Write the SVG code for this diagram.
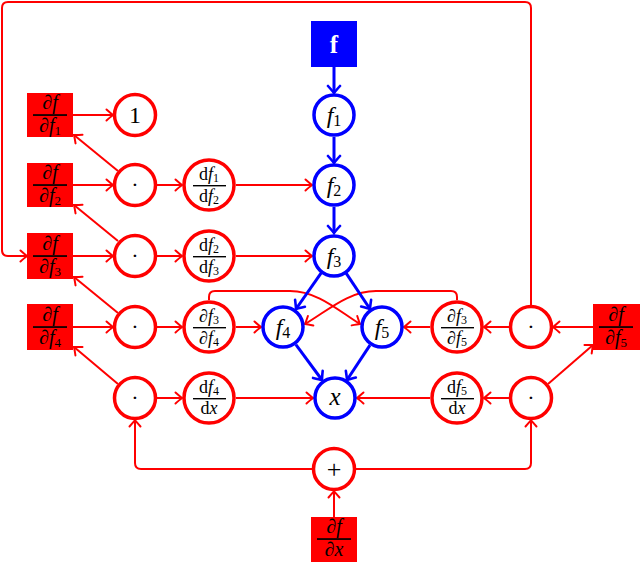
<svg xmlns="http://www.w3.org/2000/svg" width="640" height="562" viewBox="0 0 640 562">
<style>
.bg{fill:#fff}
.rbox{fill:#ff0000}
.bbox{fill:#0000ff}
.rc{fill:#fff;stroke:#ff0000;stroke-width:3.5}
.bc{fill:#fff;stroke:#0000ff;stroke-width:3.5}
.re{fill:none;stroke:#ff0000;stroke-width:2}
.be{fill:none;stroke:#0000ff;stroke-width:3}
.t{font-family:"Liberation Serif","DejaVu Serif",serif;fill:#000;text-anchor:middle}
.i{font-style:italic}
.bar{fill:#000}
</style>
<defs>
<marker id="ar" markerUnits="userSpaceOnUse" viewBox="-9 -7 11 14" markerWidth="11" markerHeight="14" refX="0" refY="0" orient="auto">
<path d="M-6.5,-5.5 Q-2,-1.5 0,0 Q-2,1.5 -6.5,5.5" fill="none" stroke="#ff0000" stroke-width="2" stroke-linecap="round"/>
</marker>
<marker id="ab" markerUnits="userSpaceOnUse" viewBox="-10 -8 12 16" markerWidth="12" markerHeight="16" refX="0" refY="0" orient="auto">
<path d="M-7,-6 Q-2,-1.5 0,0 Q-2,1.5 -7,6" fill="none" stroke="#0000ff" stroke-width="2.6" stroke-linecap="round"/>
</marker>
</defs>
<rect class="bg" x="0" y="0" width="640" height="562"/>

<g id="connectors">
<path class="re" marker-end="url(#ar)" d="M531,305 L531,8 Q531,2 525,2 L8,2 Q2,2 2,8 L2,250 Q2,256 8,256 L27,256"/>
<path class="re" marker-end="url(#ar)" d="M73,115 L113,115"/>
<path class="re" marker-end="url(#ar)" d="M73,185 L113,185"/>
<path class="re" marker-end="url(#ar)" d="M157,185 L182,185"/>
<path class="re" marker-end="url(#ar)" d="M236,185 L312,185"/>
<path class="re" marker-end="url(#ar)" d="M118,171 L74,135"/>
<path class="re" marker-end="url(#ar)" d="M73,256 L113,256"/>
<path class="re" marker-end="url(#ar)" d="M157,256 L182,256"/>
<path class="re" marker-end="url(#ar)" d="M236,256 L312,256"/>
<path class="re" marker-end="url(#ar)" d="M118,241 L74,205"/>
<path class="re" marker-end="url(#ar)" d="M73,327 L113,327"/>
<path class="re" marker-end="url(#ar)" d="M157,327 L182,327"/>
<path class="re" marker-end="url(#ar)" d="M236,327 L261,327"/>
<path class="re" marker-end="url(#ar)" d="M118,313 L74,277"/>
<path class="re" marker-end="url(#ar)" d="M157,398 L182,398"/>
<path class="re" marker-end="url(#ar)" d="M236,398 L313,398"/>
<path class="re" marker-end="url(#ar)" d="M118,384 L74,347"/>
<path class="re" marker-end="url(#ar)" d="M593,327 L553,327"/>
<path class="re" marker-end="url(#ar)" d="M509,327 L484,327"/>
<path class="re" marker-end="url(#ar)" d="M430,327 L404,327"/>
<path class="re" marker-end="url(#ar)" d="M509,398 L484,398"/>
<path class="re" marker-end="url(#ar)" d="M430,398 L357,398"/>
<path class="re" marker-end="url(#ar)" d="M548,384 L593,345"/>
<path class="re" marker-end="url(#ar)" d="M312,469 L141,469 Q135,469 135,463 L135,420"/>
<path class="re" marker-end="url(#ar)" d="M356,469 L525,469 Q531,469 531,463 L531,420"/>
<path class="re" marker-end="url(#ar)" d="M334,517 L334,491"/>
<path class="re" marker-end="url(#ar)" d="M209,300 L209,297 Q209,291 215,291 L290,291 C318,291 340,312 360,324"/>
<path class="re" marker-end="url(#ar)" d="M457,300 L457,297 Q457,291 451,291 L376,291 C348,291 326,312 305,324"/>
<path class="be" marker-end="url(#ab)" d="M334,67 L334,93"/>
<path class="be" marker-end="url(#ab)" d="M334,137 L334,163"/>
<path class="be" marker-end="url(#ab)" d="M334,207 L334,233"/>
<path class="be" marker-end="url(#ab)" d="M321.4,272.7 L296,309"/>
<path class="be" marker-end="url(#ab)" d="M346.1,273.1 L370,309"/>
<path class="be" marker-end="url(#ab)" d="M295.9,344.6 L322,380"/>
<path class="be" marker-end="url(#ab)" d="M370,345.1 L347,380"/>
</g>

<g id="n-f">
<rect class="bbox" x="311" y="21" width="46" height="46"/>
<text class="t" x="334" y="53" font-size="25" font-weight="bold" style="fill:#fff">f</text>
</g>
<g id="n-f1">
<circle class="bc" cx="334" cy="115" r="20"/>
<text class="t" x="334" y="123" font-size="24"><tspan class="i">f</tspan><tspan font-size="16" dy="3">1</tspan></text>
</g>
<g id="n-f2">
<circle class="bc" cx="334" cy="185" r="20"/>
<text class="t" x="334" y="193" font-size="24"><tspan class="i">f</tspan><tspan font-size="16" dy="3">2</tspan></text>
</g>
<g id="n-f3">
<circle class="bc" cx="334" cy="256" r="20"/>
<text class="t" x="334" y="264" font-size="24"><tspan class="i">f</tspan><tspan font-size="16" dy="3">3</tspan></text>
</g>
<g id="n-f4">
<circle class="bc" cx="283" cy="327" r="20"/>
<text class="t" x="283" y="335" font-size="24"><tspan class="i">f</tspan><tspan font-size="16" dy="3">4</tspan></text>
</g>
<g id="n-f5">
<circle class="bc" cx="382" cy="327" r="20"/>
<text class="t" x="382" y="335" font-size="24"><tspan class="i">f</tspan><tspan font-size="16" dy="3">5</tspan></text>
</g>
<g id="n-x">
<circle class="bc" cx="335" cy="398" r="20"/>
<text class="t i" x="335" y="405" font-size="25">x</text>
</g>

<g id="n-df1">
<rect class="rbox" x="27" y="93" width="46" height="44"/>
<text class="t" x="50" y="109" font-size="20">∂<tspan class="i">f</tspan></text>
<rect class="bar" x="33" y="114.2" width="34" height="1.7"/>
<text class="t" x="50" y="132" font-size="20">∂<tspan class="i">f</tspan><tspan font-size="13" dy="3">1</tspan></text>
</g>
<g id="n-df2">
<rect class="rbox" x="27" y="163" width="46" height="44"/>
<text class="t" x="50" y="179" font-size="20">∂<tspan class="i">f</tspan></text>
<rect class="bar" x="33" y="184.2" width="34" height="1.7"/>
<text class="t" x="50" y="202" font-size="20">∂<tspan class="i">f</tspan><tspan font-size="13" dy="3">2</tspan></text>
</g>
<g id="n-df3">
<rect class="rbox" x="27" y="233" width="46" height="46"/>
<text class="t" x="50" y="250" font-size="20">∂<tspan class="i">f</tspan></text>
<rect class="bar" x="33" y="255.2" width="34" height="1.7"/>
<text class="t" x="50" y="273" font-size="20">∂<tspan class="i">f</tspan><tspan font-size="13" dy="3">3</tspan></text>
</g>
<g id="n-df4">
<rect class="rbox" x="27" y="304" width="46" height="46"/>
<text class="t" x="50" y="321" font-size="20">∂<tspan class="i">f</tspan></text>
<rect class="bar" x="33" y="326.2" width="34" height="1.7"/>
<text class="t" x="50" y="344" font-size="20">∂<tspan class="i">f</tspan><tspan font-size="13" dy="3">4</tspan></text>
</g>
<g id="n-df5">
<rect class="rbox" x="593" y="304" width="47" height="46"/>
<text class="t" x="616" y="321" font-size="20">∂<tspan class="i">f</tspan></text>
<rect class="bar" x="599" y="326.2" width="34" height="1.7"/>
<text class="t" x="616" y="344" font-size="20">∂<tspan class="i">f</tspan><tspan font-size="13" dy="3">5</tspan></text>
</g>
<g id="n-dx">
<rect class="rbox" x="311" y="517" width="46" height="45"/>
<text class="t" x="334" y="533" font-size="20">∂<tspan class="i">f</tspan></text>
<rect class="bar" x="317" y="538.2" width="34" height="1.7"/>
<text class="t" x="334" y="556" font-size="20">∂<tspan class="i">x</tspan></text>
</g>

<g id="n-one">
<circle class="rc" cx="135" cy="115" r="20.5"/>
<text class="t" x="135" y="123" font-size="24">1</text>
</g>
<g id="n-m1">
<circle class="rc" cx="135" cy="185" r="20.5"/>
<text class="t" x="135" y="192" font-size="22">·</text>
</g>
<g id="n-m2">
<circle class="rc" cx="135" cy="256" r="20.5"/>
<text class="t" x="135" y="263" font-size="22">·</text>
</g>
<g id="n-m3">
<circle class="rc" cx="135" cy="327" r="20.5"/>
<text class="t" x="135" y="334" font-size="22">·</text>
</g>
<g id="n-m4">
<circle class="rc" cx="135" cy="398" r="20.5"/>
<text class="t" x="135" y="405" font-size="22">·</text>
</g>
<g id="n-m5">
<circle class="rc" cx="531" cy="327" r="20.5"/>
<text class="t" x="531" y="334" font-size="22">·</text>
</g>
<g id="n-m6">
<circle class="rc" cx="531" cy="398" r="20.5"/>
<text class="t" x="531" y="405" font-size="22">·</text>
</g>
<g id="n-plus">
<circle class="rc" cx="334" cy="469" r="20.5"/>
<text class="t" x="334" y="478" font-size="26">+</text>
</g>

<g id="n-d12">
<circle class="rc" cx="209" cy="185" r="25"/>
<text class="t" x="209" y="180" font-size="18">d<tspan class="i">f</tspan><tspan font-size="12" dy="2">1</tspan></text>
<rect class="bar" x="193" y="185" width="33" height="1.4"/>
<text class="t" x="209" y="202" font-size="18">d<tspan class="i">f</tspan><tspan font-size="12" dy="2">2</tspan></text>
</g>
<g id="n-d23">
<circle class="rc" cx="209" cy="256" r="25"/>
<text class="t" x="209" y="251" font-size="18">d<tspan class="i">f</tspan><tspan font-size="12" dy="2">2</tspan></text>
<rect class="bar" x="193" y="256" width="33" height="1.4"/>
<text class="t" x="209" y="273" font-size="18">d<tspan class="i">f</tspan><tspan font-size="12" dy="2">3</tspan></text>
</g>
<g id="n-p34">
<circle class="rc" cx="209" cy="327" r="25"/>
<text class="t" x="209" y="322" font-size="18">∂<tspan class="i">f</tspan><tspan font-size="12" dy="2">3</tspan></text>
<rect class="bar" x="193" y="327" width="33" height="1.4"/>
<text class="t" x="209" y="344" font-size="18">∂<tspan class="i">f</tspan><tspan font-size="12" dy="2">4</tspan></text>
</g>
<g id="n-d4x">
<circle class="rc" cx="209" cy="398" r="25"/>
<text class="t" x="209" y="393" font-size="18">d<tspan class="i">f</tspan><tspan font-size="12" dy="2">4</tspan></text>
<rect class="bar" x="193" y="398" width="33" height="1.4"/>
<text class="t" x="209" y="414" font-size="18">d<tspan class="i">x</tspan></text>
</g>
<g id="n-p35">
<circle class="rc" cx="457" cy="327" r="25"/>
<text class="t" x="457" y="322" font-size="18">∂<tspan class="i">f</tspan><tspan font-size="12" dy="2">3</tspan></text>
<rect class="bar" x="441" y="327" width="33" height="1.4"/>
<text class="t" x="457" y="344" font-size="18">∂<tspan class="i">f</tspan><tspan font-size="12" dy="2">5</tspan></text>
</g>
<g id="n-d5x">
<circle class="rc" cx="457" cy="398" r="25"/>
<text class="t" x="457" y="393" font-size="18">d<tspan class="i">f</tspan><tspan font-size="12" dy="2">5</tspan></text>
<rect class="bar" x="441" y="398" width="33" height="1.4"/>
<text class="t" x="457" y="414" font-size="18">d<tspan class="i">x</tspan></text>
</g>
</svg>
